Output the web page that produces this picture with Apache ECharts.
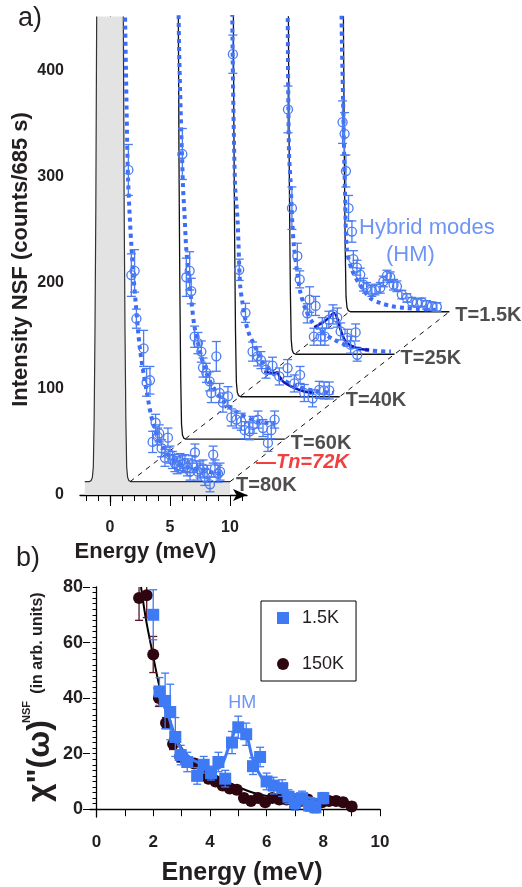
<!DOCTYPE html>
<html>
<head>
<meta charset="utf-8">
<script src="https://cdn.jsdelivr.net/npm/echarts@6.0.0/dist/echarts.min.js"></script>
<style>
html, body { margin: 0; padding: 0; background: #fff; }
#chart { width: 522px; height: 887px; }
</style>
</head>
<body>
<div id="chart"></div>
<script>
// ---------- panel a : waterfall of NSF intensity ----------
var temps = ['T=80K', 'T=60K', 'T=40K', 'T=25K', 'T=1.5K'];
var DX = 4.57;    // energy shift between successive curves (meV)
var DY = 40;      // intensity shift between successive curves (counts)
var BASE = 12.5;  // flat background of the model curves
var BASE_END = 10;

// elastic line (right half), counts above background
var elasticE = [1.0, 1.11, 1.18, 1.25, 1.32, 1.39, 1.47, 1.58, 1.75, 10];
var elasticC = [1500, 440, 260, 143, 60, 14, 4, 1, 0, 0];

// measured points (energy, counts, error) per temperature, un-shifted
var e80 = [1.53, 1.78, 2.05, 2.2, 2.8, 3.05, 3.33, 3.55, 3.8, 3.97, 4.1, 4.3, 4.58, 4.83, 5.0, 5.2, 5.4, 5.6, 5.83, 6.05, 6.25, 6.45, 6.67, 6.85, 7.08, 7.3, 7.5, 7.75, 7.9, 8.1, 8.33, 8.6, 8.75, 9.0, 9.17];
var c80 = [306, 207, 211, 166, 138, 106, 108, 50, 68, 55, 58, 44, 35, 54, 38, 33, 30, 28, 31, 29, 30, 26, 22, 29, 40, 22, 24, 25, 17, 20, 10, 38, 25, 20, 22];
var err80 = [24, 20, 20, 9, 17, 13, 13, 10, 8, 8, 8, 8, 8, 9, 8, 8, 8, 8, 8, 8, 8, 8, 8, 8, 8, 8, 8, 8, 8, 8, 7, 8, 8, 8, 8];

var e60 = [1.46, 1.79, 2.07, 2.2, 2.48, 2.76, 3.04, 3.18, 3.46, 3.73, 3.87, 4.29, 4.57, 4.84, 5.26, 5.54, 5.96, 6.37, 6.65, 7.07, 7.34, 7.76, 8.18, 8.59, 8.87, 9.15];
var c60 = [281, 165, 171, 152, 109, 103, 95, 80, 75, 67, 56, 90.5, 56, 47, 53, 33, 31, 29, 21, 20, 26, 31, 23, 9, 21, 31];
var err60 = [24, 18, 18, 12, 10, 10, 10, 9, 9, 9, 9, 14, 9, 9, 9, 8, 8, 8, 8, 8, 8, 8, 8, 8, 8, 8];

var e40 = [1.1, 1.63, 2.15, 2.74, 3.16, 3.44, 3.86, 4.4, 4.97, 5.66, 6.22, 6.7, 7.05, 7.74, 8.3, 8.7, 9.13];
var c40 = [335, 132, 91.5, 55, 50.5, 47, 38, 41.7, 31.6, 39.5, 25, 33, 16, 11, 19, 18.4, 18.4];
var err40 = [18, 10, 9, 9, 9, 8, 8, 8, 8, 8, 8, 8, 8, 8, 8, 8, 8];

var e25 = [1.12, 1.45, 1.9, 2.1, 2.73, 2.92, 3.28, 3.42, 3.84, 3.98, 4.2, 4.53, 4.87, 5.23, 5.51, 6.06, 6.34, 6.76, 6.89];
var c25 = [243, 150, 105, 83, 51, 64, 29, 58, 29, 39, 29, 45, 50, 47, 34, 28, 21.5, 33, 12];
var err25 = [22, 20, 12, 8, 9, 12, 8, 9, 8, 8, 8, 8, 9, 9, 8, 8, 8, 8, 6];

var e1 = [1.1, 1.27, 1.38, 1.6, 1.88, 2.0, 2.3, 2.57, 2.85, 3.1, 3.54, 3.8, 4.24, 4.5, 4.8, 5.07, 5.35, 5.63, 6.04, 6.46, 6.88, 7.3, 7.7, 8.1, 8.54, 8.96];
var c1 = [191, 180, 145, 110, 88, 62, 54, 47.5, 38, 35, 32, 33.4, 35, 41, 46.6, 45, 38, 36.5, 28.7, 25.5, 22, 20.8, 21.4, 19, 17.7, 17];
var err1 = [20, 20, 15, 12, 10, 8, 7, 6, 6, 5, 5, 5, 5, 5, 5, 5, 5, 5, 4, 4, 4, 4, 4, 4, 4, 4];

// fitted curves, un-shifted
var fit80 = [[1.2, 600], [1.25, 460], [1.33, 400], [1.5, 300], [1.8, 231], [2.14, 181], [2.5, 137], [3.08, 96], [3.58, 68], [4.42, 45], [5.25, 33], [6.5, 26], [8, 22], [9.5, 20]];
var fit60 = [[1.1, 600], [1.15, 410], [1.5, 254], [1.65, 222], [1.79, 191], [2.2, 144], [2.48, 118], [3.0, 92], [3.5, 74], [4.0, 62], [5, 47], [6, 38], [7.5, 30], [9.2, 27]];
var fit40 = [[1.0, 600], [1.05, 371], [1.27, 214], [1.49, 179], [1.7, 118], [1.9, 101], [2.19, 82], [2.47, 71], [2.88, 61.5], [3.44, 47], [3.9, 40], [5, 30], [6.5, 22], [8, 18], [9.5, 16]];
var fit25 = [[1.0, 600], [1.1, 331], [1.2, 205], [1.34, 174], [1.48, 137], [1.62, 114], [1.9, 89], [2.17, 70], [2.6, 54.5], [3.2, 42], [4, 33], [5, 26], [6, 21], [7, 18], [8, 16], [9.7, 15]];
var fit1 = [[0.95, 600], [1.02, 291], [1.14, 213], [1.32, 118], [1.46, 71], [1.88, 52], [2.43, 40], [3.4, 25.5], [4.24, 20.8], [5.2, 17.7], [6.3, 16.1], [7.5, 15], [9.3, 14]];
var hm40 = [[3.72, 36.3], [4.2, 35], [4.55, 34.8], [4.8, 35.5], [5.0, 31], [5.4, 25.6], [6.2, 20.9], [7.05, 17.5], [7.88, 16]];
var hm25 = [[3.3, 38], [3.98, 42], [4.53, 46.7], [4.95, 51.4], [5.22, 46.7], [5.5, 35.7], [5.93, 24.6], [6.48, 19.9], [7.18, 17.5], [7.87, 16.8]];
var TN_STEP = 0.4;   // Tn = 72K sits 8/20 of the way from 80K to 60K
var CORNER_E = 1.67;

// ---------- panel b : chi''(omega) ----------
var b15E = [2.0, 2.22, 2.42, 2.6, 2.78, 2.97, 3.2, 3.55, 3.78, 4.04, 4.3, 4.54, 4.78, 5.0, 5.28, 5.52, 5.77, 6.0, 6.25, 6.55, 6.77, 7.0, 7.25, 7.5, 7.72, 8.0];
var b15V = [70, 42.4, 39, 35, 26, 19.5, 17, 12, 16, 13, 17, 11, 24, 29.5, 27, 15.5, 18.8, 10, 8.5, 7.6, 4.5, 2.2, 4, 1.3, 0.7, 4];
var b15Err = [9, 5, 10, 10, 7, 3.5, 3.5, 3, 3, 2.5, 3.5, 3, 4, 4, 4, 3, 3.5, 3, 3, 3, 2.5, 2.5, 2.5, 2, 2, 2];
var b150E = [1.5, 1.77, 2.0, 2.2, 2.45, 2.7, 2.95, 3.2, 3.45, 3.7, 3.95, 4.2, 4.45, 4.7, 4.95, 5.2, 5.45, 5.7, 5.95, 6.2, 6.45, 6.7, 6.95, 7.2, 7.45, 7.7, 7.95, 8.2, 8.45, 8.7, 9.0];
var b150V = [76, 77, 55.7, 40, 31, 23.5, 19, 17, 16.5, 12.5, 11, 10, 8.5, 7.5, 7, 4, 3, 4, 2.5, 4, 3.5, 3.5, 3, 3, 3.5, 2, 2.5, 3, 3, 2.5, 1];
var b150Err = [8, 8, 6.5, 3, 2, 2, 2, 1.5, 1.5, 1.5, 1.5, 1.5, 1.5, 1.5, 1.5, 1.5, 1.5, 1.5, 1.5, 1.5, 1.5, 1.5, 1.5, 1.5, 1.5, 1.5, 1.5, 1.5, 1.5, 1.5, 1.5];
var fitB15 = [[2.03, 44], [2.48, 35], [2.9, 23], [3.3, 18.5], [3.66, 16.4], [4.12, 14.6], [4.4, 15.5], [4.72, 24], [5.0, 29.6], [5.25, 28], [5.53, 17.5], [5.9, 10.4], [6.25, 8.3], [6.84, 5.9], [7.43, 4.2], [8.0, 3.1]];
var fitB150 = [[1.57, 80], [1.75, 68], [2.0, 55], [2.2, 45], [2.45, 35], [2.7, 28], [3.0, 22], [3.4, 17.5], [3.9, 14], [4.5, 10.5], [5, 8], [5.5, 6], [6, 4.8], [6.5, 4], [7, 3.5], [7.5, 3.2], [8, 3], [8.5, 2.8], [8.8, 2.7]];
var hmLabelAt = [5.14, 38.3];

var FONT = '"Liberation Sans", Arial, Helvetica, sans-serif';
var INK = '#231f20';
var BLUE = '#4a7bf2';
var SQBLUE = '#3f7af5';
var FITBLUE = '#3d6cf6';
var DARKBLUE = '#1414b4';
var MAROON = '#2e0610';

function range(a, b, s) { var r = []; for (var v = a; v <= b + 1e-9; v += s) r.push(+v.toFixed(3)); return r; }
function shift(pts, k) { return pts.map(function (p) { return [p[0] + k * DX, p[1] + k * DY]; }); }
function zip3(e, c, s) { return e.map(function (v, i) { return [v, c[i], s[i]]; }); }

var sets = [[e80, c80, err80], [e60, c60, err60], [e40, c40, err40], [e25, c25, err25], [e1, c1, err1]];
var fits = [fit80, fit60, fit40, fit25, fit1];

var pts = [];
sets.forEach(function (s, k) {
  zip3(s[0], s[1], s[2]).forEach(function (p) { pts.push([p[0] + k * DX, p[1] + k * DY, p[2]]); });
});

var rightHalf = elasticE.map(function (e, i) { return [e, BASE + elasticC[i]]; });
var leftHalf = [];
for (var i = elasticE.length - 2; i >= 0; i--) leftHalf.push([-elasticE[i], BASE + elasticC[i]]);
leftHalf.unshift([-2.1, BASE]);
var curve80 = leftHalf.concat(rightHalf);

function errRender(cap, lw) {
  return function (params, api) {
    var x = api.value(0), y = api.value(1), e = api.value(2);
    var hi = api.coord([x, y + e]), lo = api.coord([x, y - e]);
    var st = { stroke: api.visual('color'), lineWidth: lw };
    return {
      type: 'group', children: [
        { type: 'line', shape: { x1: hi[0], y1: hi[1], x2: lo[0], y2: lo[1] }, style: st },
        { type: 'line', shape: { x1: hi[0] - cap, y1: hi[1], x2: hi[0] + cap, y2: hi[1] }, style: st },
        { type: 'line', shape: { x1: lo[0] - cap, y1: lo[1], x2: lo[0] + cap, y2: lo[1] }, style: st }
      ]
    };
  };
}

var series = [];

// panel a: model curves (front one shaded)
series.push({
  type: 'line', xAxisIndex: 2, yAxisIndex: 2, data: curve80, symbol: 'none', z: 1,
  lineStyle: { color: '#333', width: 1.2 },
  areaStyle: { color: '#e3e3e3', opacity: 1 }
});
for (var k = 1; k < temps.length; k++) {
  series.push({
    type: 'line', xAxisIndex: 2, yAxisIndex: 2, data: shift(rightHalf, k), symbol: 'none', z: 2,
    lineStyle: { color: '#111', width: 1.3 }
  });
}
// guide lines through curve corners and ends
series.push({
  type: 'line', xAxisIndex: 2, yAxisIndex: 2, symbol: 'none', z: 3,
  data: temps.map(function (t, k) { return [CORNER_E + k * DX, BASE + k * DY]; }),
  lineStyle: { color: '#111', width: 1, type: [5, 5] }
});
series.push({
  type: 'line', xAxisIndex: 2, yAxisIndex: 2, symbol: 'none', z: 3,
  data: temps.map(function (t, k) { return [BASE_END + k * DX, BASE + k * DY]; }),
  lineStyle: { color: '#111', width: 1, type: [5, 5] }
});
// fits
fits.forEach(function (f, k) {
  series.push({
    type: 'line', xAxisIndex: 2, yAxisIndex: 2, data: shift(f, k), symbol: 'none', smooth: 0.3, z: 4,
    lineStyle: { color: FITBLUE, width: 4, type: [4, 4] }
  });
});
[[hm40, 2], [hm25, 3]].forEach(function (h) {
  series.push({
    type: 'line', xAxisIndex: 2, yAxisIndex: 2, data: shift(h[0], h[1]), symbol: 'none', smooth: 0.3, z: 5,
    lineStyle: { color: DARKBLUE, width: 2.5 }
  });
});
// data
series.push({
  type: 'custom', xAxisIndex: 2, yAxisIndex: 2, data: pts, z: 6, clip: true,
  itemStyle: { color: BLUE }, renderItem: errRender(4.5, 1.3)
});
series.push({
  type: 'scatter', xAxisIndex: 2, yAxisIndex: 2, data: pts.map(function (p) { return [p[0], p[1]]; }), z: 7,
  symbol: 'circle', symbolSize: 9,
  itemStyle: { color: 'rgba(0,0,0,0)', borderColor: BLUE, borderWidth: 1.3, opacity: 1 }
});
// curve labels
series.push({
  type: 'scatter', xAxisIndex: 2, yAxisIndex: 2, symbolSize: 0, z: 8,
  data: temps.map(function (t, k) { return { value: [BASE_END + k * DX, BASE + k * DY], name: t }; }),
  label: {
    show: true, position: 'right', distance: 6, offset: [0, 4], formatter: '{b}',
    fontFamily: FONT, fontWeight: 'bold', fontSize: 20, color: INK
  }
});
series.push({
  type: 'scatter', xAxisIndex: 2, yAxisIndex: 2, symbolSize: 0, z: 8,
  data: [{ value: [BASE_END + TN_STEP * DX, BASE + TN_STEP * DY], name: '—Tn=72K' }],
  label: {
    show: true, position: 'right', distance: 4, offset: [0, -2], formatter: '{b}',
    fontFamily: FONT, fontWeight: 'bold', fontStyle: 'italic', fontSize: 20, color: '#f00f0f'
  }
});
series.push({
  type: 'scatter', xAxisIndex: 2, yAxisIndex: 2, symbolSize: 0, z: 8,
  data: [{ value: [20.75, 251], name: 'Hybrid modes' }, { value: [23.0, 226], name: '(HM)' }],
  label: {
    show: true, position: 'right', distance: 0, formatter: '{b}',
    fontFamily: FONT, fontSize: 22, color: BLUE
  }
});

// panel b
series.push({
  type: 'line', xAxisIndex: 3, yAxisIndex: 3, data: fitB150, symbol: 'none', smooth: 0.3, z: 2,
  lineStyle: { color: '#000', width: 2 }
});
series.push({
  type: 'custom', xAxisIndex: 3, yAxisIndex: 3, data: zip3(b150E, b150V, b150Err), z: 3, clip: true,
  itemStyle: { color: '#5a1426' }, renderItem: errRender(4, 1.3)
});
series.push({
  name: '150K', type: 'scatter', xAxisIndex: 3, yAxisIndex: 3, z: 4,
  data: b150E.map(function (e, i) { return [e, b150V[i]]; }),
  symbol: 'circle', symbolSize: 12, itemStyle: { color: MAROON, opacity: 1 }
});
series.push({
  type: 'line', xAxisIndex: 3, yAxisIndex: 3, data: fitB15, symbol: 'none', smooth: 0.3, z: 5,
  lineStyle: { color: SQBLUE, width: 3 }
});
series.push({
  type: 'custom', xAxisIndex: 3, yAxisIndex: 3, data: zip3(b15E, b15V, b15Err), z: 6, clip: true,
  itemStyle: { color: SQBLUE }, renderItem: errRender(4, 1.3)
});
series.push({
  name: '1.5K', type: 'scatter', xAxisIndex: 3, yAxisIndex: 3, z: 7,
  data: b15E.map(function (e, i) { return [e, b15V[i]]; }),
  symbol: 'rect', symbolSize: 12, itemStyle: { color: SQBLUE, opacity: 1 }
});
series.push({
  type: 'scatter', xAxisIndex: 3, yAxisIndex: 3, symbolSize: 0, z: 8,
  data: [{ value: hmLabelAt, name: 'HM' }],
  label: { show: true, position: 'inside', formatter: '{b}', fontFamily: FONT, fontSize: 18, color: BLUE }
});

var axLine = { show: true, lineStyle: { color: '#000', width: 1.3 } };
var option = {
  backgroundColor: '#fff',
  animation: false,
  grid: [
    { left: 80, top: 17, width: 167, height: 485 },
    { left: 80, top: 17, width: 420, height: 485 },
    { left: 90, top: 587, width: 290, height: 238 }
  ],
  xAxis: [
    {
      gridIndex: 0, type: 'value', position: 'bottom', min: -2.5, max: -2.5 + 167 / 12,
      axisLine: { show: true, symbol: ['none', 'arrow'], symbolSize: [9, 14], lineStyle: { color: '#000', width: 1.3 } },
      axisTick: { show: true, length: 6, customValues: range(-2, 11, 1), lineStyle: { color: '#000' } },
      axisLabel: { customValues: [0, 5, 10], margin: 18, fontFamily: FONT, fontWeight: 'bold', fontSize: 16, color: INK },
      splitLine: { show: false },
      name: 'Energy (meV)', nameLocation: 'middle', nameGap: 32,
      nameTextStyle: { fontFamily: FONT, fontWeight: 'bold', fontSize: 22, color: INK, padding: [0, 36, 0, 0] }
    },
    {
      gridIndex: 0, type: 'value', position: 'bottom', min: -2.5, max: -2.5 + 167 / 12,
      axisLine: { show: false }, axisLabel: { show: false }, splitLine: { show: false },
      axisTick: { show: true, length: 11, customValues: [0, 5, 10], lineStyle: { color: '#000' } }
    },
    { gridIndex: 1, type: 'value', min: -2.5, max: 32.5, show: false },
    {
      gridIndex: 2, type: 'value', position: 'bottom', min: -0.23, max: 10, axisLine: axLine,
      axisTick: { show: true, length: 7, customValues: range(0, 10, 1), lineStyle: { color: '#000' } },
      axisLabel: { customValues: range(0, 10, 2), margin: 17, fontFamily: FONT, fontWeight: 'bold', fontSize: 17, color: INK },
      splitLine: { show: false },
      name: 'Energy (meV)', nameLocation: 'middle', nameGap: 44,
      nameTextStyle: { fontFamily: FONT, fontWeight: 'bold', fontSize: 25, color: INK, padding: [0, 0, 0, 14] }
    }
  ],
  yAxis: [
    {
      gridIndex: 0, type: 'value', position: 'left', min: -6.6, max: 450, axisLine: axLine,
      axisTick: { show: true, length: 5, customValues: range(0, 450, 10), lineStyle: { color: '#000' } },
      axisLabel: { customValues: range(0, 400, 100), margin: 16, fontFamily: FONT, fontWeight: 'bold', fontSize: 16, color: INK },
      splitLine: { show: false },
      name: 'Intensity NSF (counts/685 s)', nameLocation: 'middle', nameGap: 48, nameRotate: 90,
      nameTextStyle: { fontFamily: FONT, fontWeight: 'bold', fontSize: 22, color: INK, padding: [0, 0, 0, 0] }
    },
    {
      gridIndex: 0, type: 'value', position: 'left', min: -6.6, max: 450,
      axisLine: { show: false }, axisLabel: { show: false }, splitLine: { show: false },
      axisTick: { show: true, length: 9, customValues: range(0, 400, 100), lineStyle: { color: '#000' } }
    },
    { gridIndex: 1, type: 'value', min: -6.6, max: 450, show: false },
    {
      gridIndex: 2, type: 'value', position: 'left', min: -2.8, max: 80, axisLine: axLine,
      axisTick: { show: true, length: 4, customValues: range(0, 80, 2), lineStyle: { color: '#000' } },
      axisLabel: { customValues: range(0, 80, 20), margin: 7, fontFamily: FONT, fontWeight: 'bold', fontSize: 18, color: INK },
      splitLine: { show: false }
    },
    {
      gridIndex: 2, type: 'value', position: 'left', min: -2.8, max: 80,
      axisLine: { show: false }, axisLabel: { show: false }, splitLine: { show: false },
      axisTick: { show: true, length: 7, customValues: range(0, 80, 20), lineStyle: { color: '#000' } }
    }
  ],
  legend: {
    left: 261, top: 601, orient: 'vertical', itemGap: 28, itemWidth: 12, itemHeight: 12,
    padding: [8, 12, 8, 16], borderColor: '#000', borderWidth: 1,
    textStyle: { fontFamily: FONT, fontSize: 18, color: INK, padding: [0, 0, 0, 8] },
    data: [{ name: '1.5K', icon: 'rect' }, { name: '150K', icon: 'circle' }]
  },
  graphic: [
    { type: 'text', left: 18, top: 5, style: { text: 'a)', fontFamily: FONT, fontSize: 27, fill: INK } },
    { type: 'text', left: 16, top: 545, style: { text: 'b)', fontFamily: FONT, fontSize: 27, fill: INK } },
    { type: 'text', x: 40, y: 761, rotation: Math.PI / 2, style: { text: 'χ"(ω)', fontFamily: FONT, fontWeight: 'bold', fontSize: 32, fill: INK, align: 'center', verticalAlign: 'middle' } },
    { type: 'text', x: 27, y: 712, rotation: Math.PI / 2, style: { text: 'NSF', fontFamily: FONT, fontWeight: 'bold', fontSize: 11, fill: INK, align: 'center', verticalAlign: 'middle' } },
    { type: 'text', x: 38, y: 643, rotation: Math.PI / 2, style: { text: '(in arb. units)', fontFamily: FONT, fontWeight: 'bold', fontSize: 16, fill: INK, align: 'center', verticalAlign: 'middle' } }
  ],
  series: series
};

var chart = echarts.init(document.getElementById('chart'));
chart.setOption(option);
</script>
</body>
</html>
